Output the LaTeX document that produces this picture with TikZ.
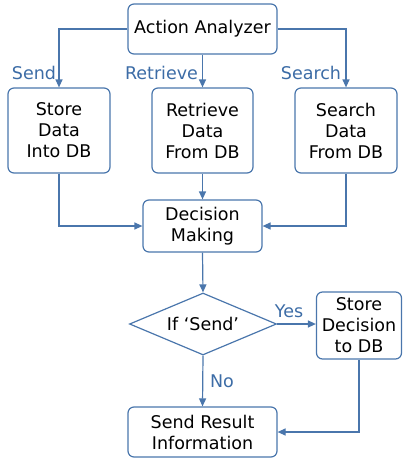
\documentclass[tikz,border=0pt]{standalone}
\usepackage{fontspec}
\setmainfont{DejaVu Sans}
\usepackage{tikz}
\usetikzlibrary{shapes.geometric,arrows.meta}

\definecolor{flowline}{HTML}{4A76AC}
\definecolor{flowtext}{HTML}{3C6CA6}

\tikzset{
  box/.style={draw=flowline, line width=1.2pt, rounded corners=6pt, align=center,
    inner sep=0pt, font=\fontsize{17.5}{21}\selectfont},
  flow/.style={draw=flowline, line width=1.2pt, -{Triangle[length=8pt,width=7pt]}},
  tag/.style={text=flowtext, font=\fontsize{17.5}{21}\selectfont, inner sep=0pt}
}

\begin{document}
\begin{tikzpicture}[x=1pt,y=-1pt]
    \useasboundingbox (0,0) rectangle (403,458);
    \node[box, minimum width=149pt, minimum height=50pt] (aa) at (202.5,29) {Action Analyzer};
    \node[box, minimum width=102pt, minimum height=85pt] (store) at (59,130.5) {Store\\Data\\Into DB};
    \node[box, minimum width=101pt, minimum height=85pt] (retr) at (202.5,130.5) {Retrieve\\Data\\From DB};
    \node[box, minimum width=102pt, minimum height=85pt] (search) at (346,130.5) {Search\\Data\\From DB};
    \node[box, minimum width=119pt, minimum height=52pt] (dm) at (202.5,226) {Decision\\Making};
    \node[box, rounded corners=0pt, diamond, aspect=2.37, minimum width=147pt, minimum height=62pt] (ifsend) at (203,324) {If `Send'};
    \node[box, minimum width=85pt, minimum height=67pt] (storedec) at (359,325.5) {Store\\Decision\\to DB};
    \node[box, minimum width=149pt, minimum height=50pt] (result) at (202.5,432) {Send Result\\Information};

    \draw[flow] (aa.west) -| (store.north);
    \draw[flow] (aa.south) -- (retr.north);
    \draw[flow] (aa.east) -| (search.north);
    \node[tag] (lsend) at (34,73) {Send};
    \node[tag] (lretr) at (161.5,73) {Retrieve};
    \node[tag] (lsearch) at (311,73) {Search};

    \draw[flow] (store.south) |- (dm.west);
    \draw[flow] (retr.south) -- (dm.north);
    \draw[flow] (search.south) |- (dm.east);
    \draw[flow] (dm.south) -- (ifsend.north);

    \draw[flow] (ifsend.east) -- (ifsend.east -| storedec.west);
    \node[tag] (lyes) at (289,311) {Yes};
    \draw[flow] (ifsend.south) -- (result.north);
    \node[tag] (lno) at (222,381) {No};
    \draw[flow] (storedec.south) |- (result.east);
  \end{tikzpicture}
\end{document}
